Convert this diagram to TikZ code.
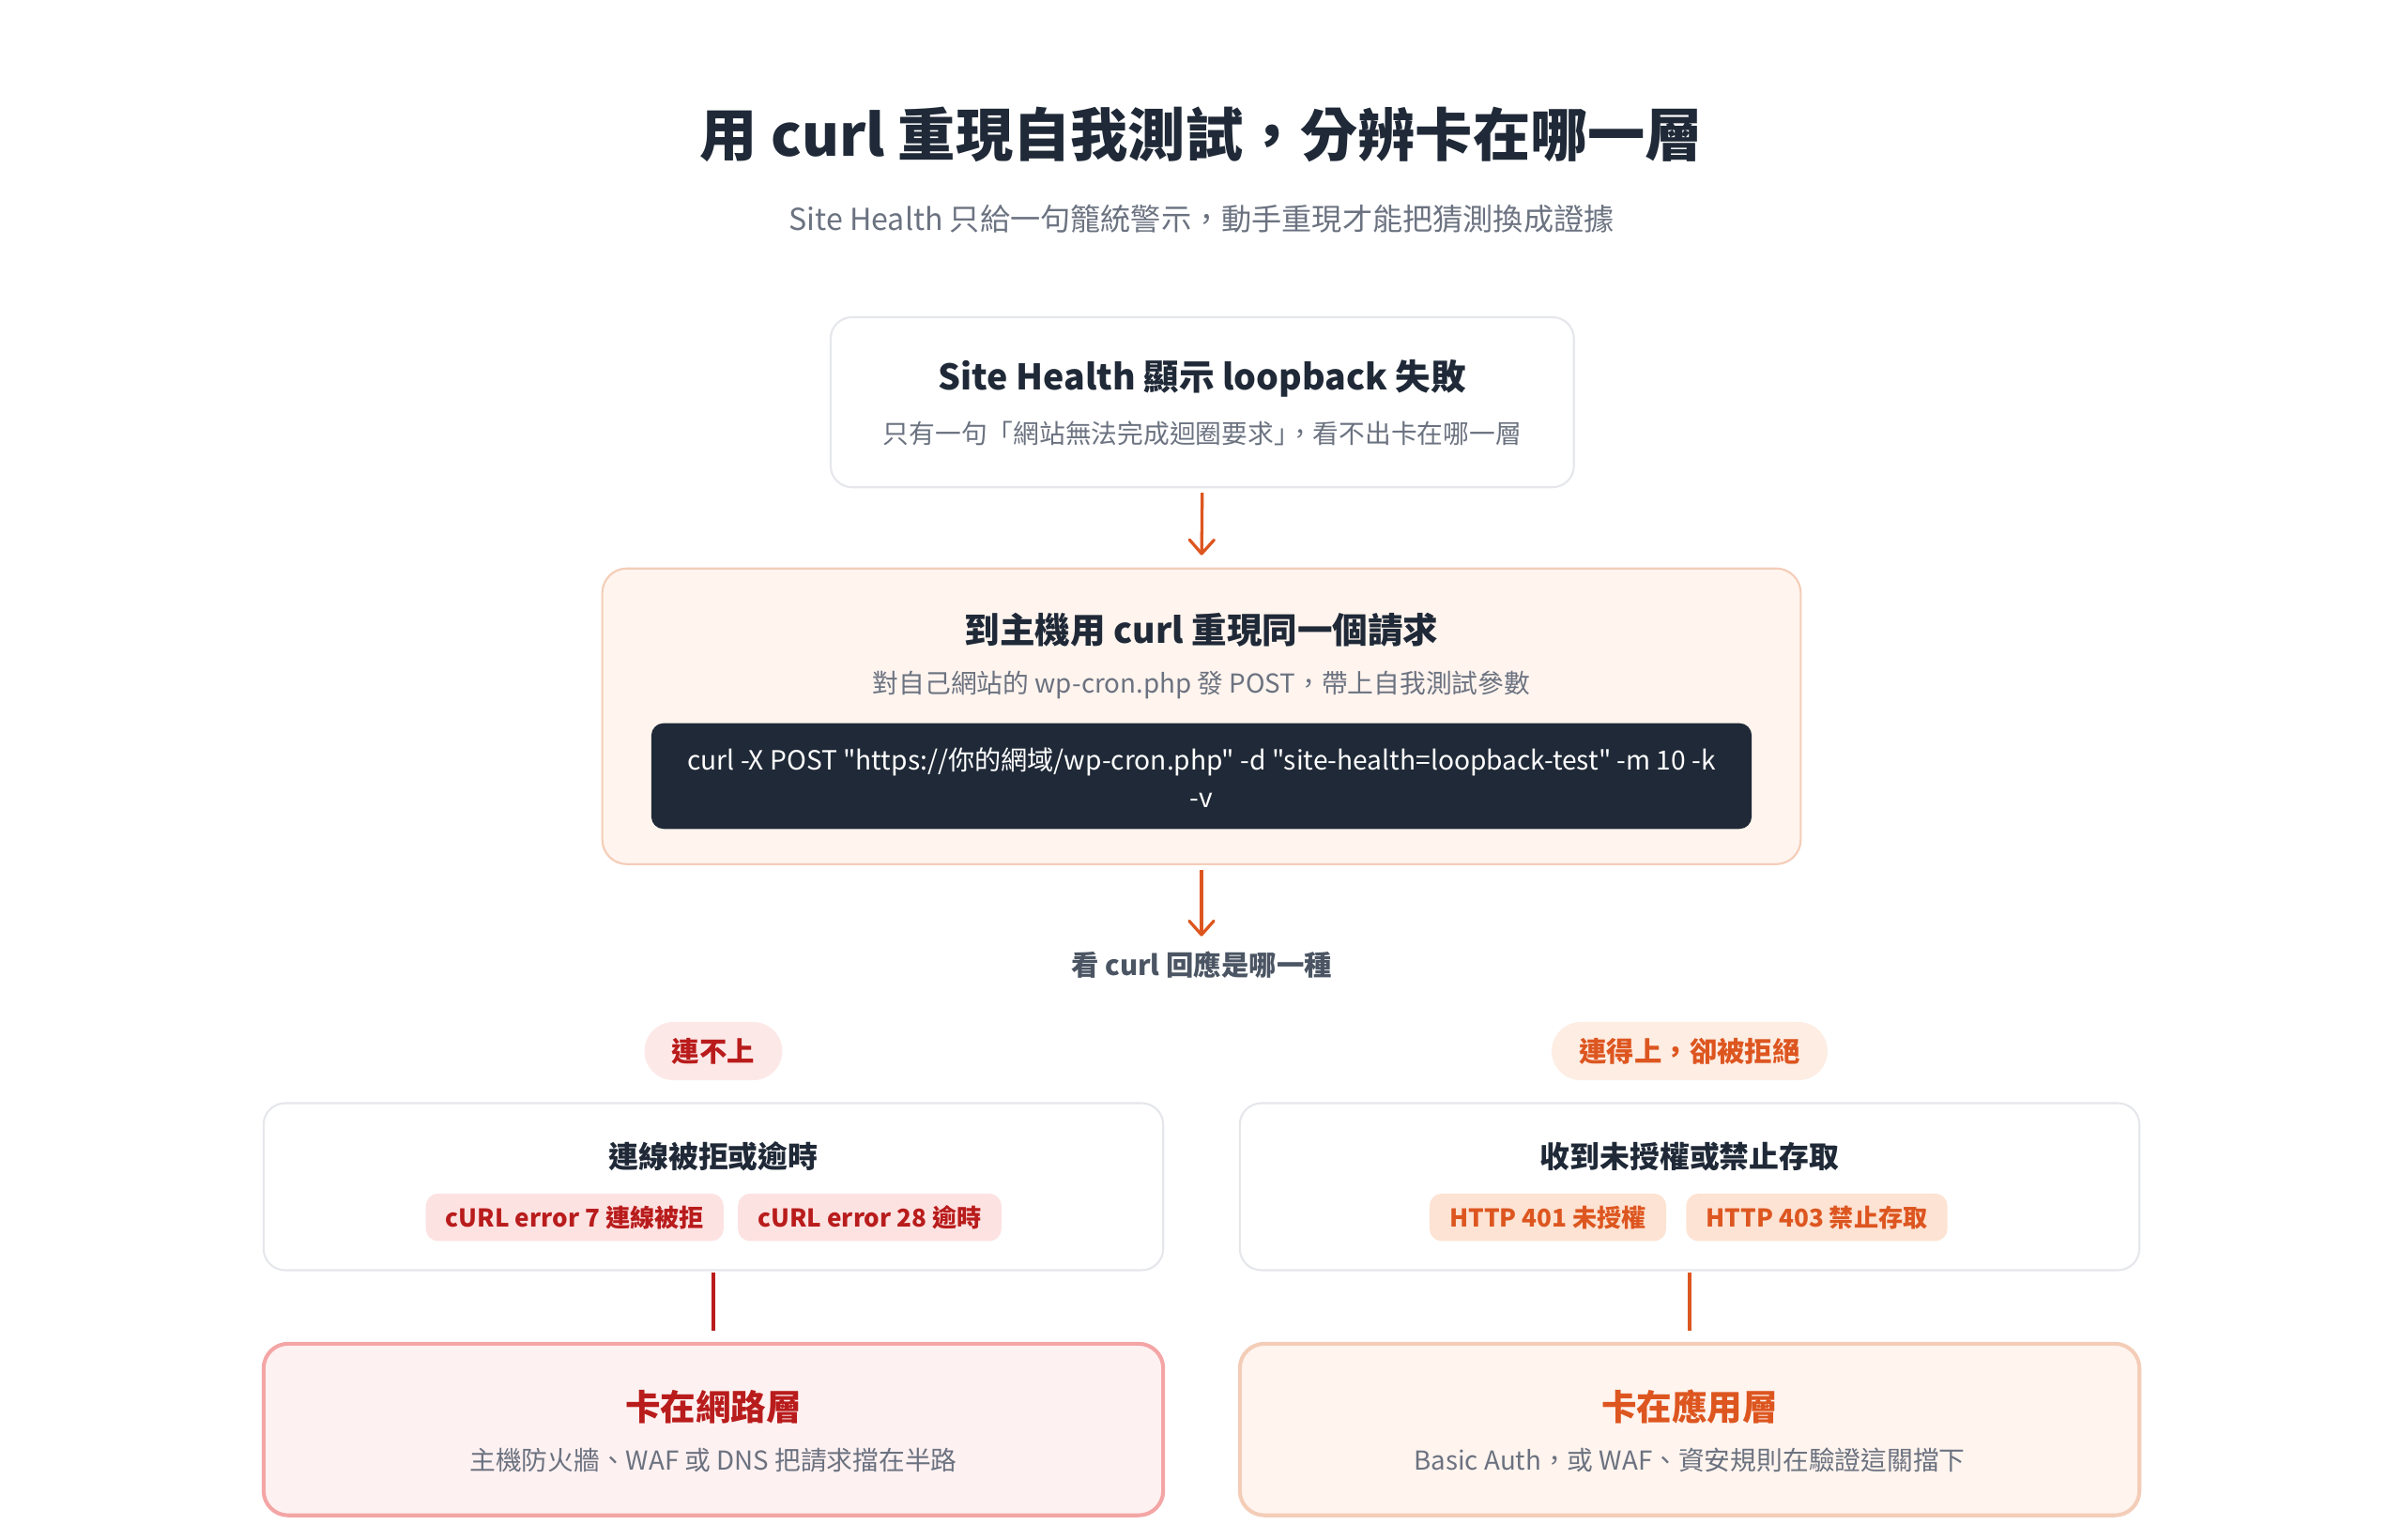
\documentclass[tikz,border=0pt]{standalone}
\usepackage{fontspec}
\setmainfont{Noto Sans CJK TC}
\newfontfamily\codefont{Noto Sans CJK TC}[Ligatures=TeXOff]
\usetikzlibrary{arrows.meta}
\definecolor{ink}{HTML}{1F2937}
\definecolor{muted}{HTML}{6B7280}
\definecolor{askgray}{HTML}{4B5563}
\definecolor{cardline}{HTML}{E5E7EB}
\definecolor{accent}{HTML}{DD5620}
\definecolor{peach}{HTML}{FFF4EE}
\definecolor{peachline}{HTML}{F4CDB8}
\definecolor{peachpill}{HTML}{FDEDE3}
\definecolor{peachchip}{HTML}{FDE3D3}
\definecolor{alarm}{HTML}{B91C1C}
\definecolor{rose}{HTML}{FEF1F1}
\definecolor{roseline}{HTML}{F4A5A5}
\definecolor{rosepill}{HTML}{FDE8E8}
\definecolor{rosechip}{HTML}{FDE2E2}
\newcommand{\fs}[1]{\fontsize{#1}{1.2\dimexpr#1pt\relax}\selectfont}
\tikzset{>={Straight Barb[length=9pt,width=16pt,round]},
	card/.style={draw=cardline,line width=1.3pt,fill=white,rounded corners=14pt,inner sep=0pt},
	head/.style={text=ink,font=\fs{23}\bfseries,inner sep=0pt},
	subhead/.style={text=ink,font=\fs{19.5}\bfseries,inner sep=0pt},
	note/.style={text=muted,font=\fs{17},inner sep=0pt},
	pill/.style={rounded corners=19pt,minimum height=38pt,inner xsep=18pt,inner ysep=0pt,font=\fs{18}\bfseries},
	chip/.style={rounded corners=8pt,minimum height=31pt,inner xsep=13pt,inner ysep=0pt,font=\fs{16}\bfseries},
	flow/.style={->,draw=accent,line width=2pt,shorten <=3pt,shorten >=8pt}
}
\begin{document}
\begin{tikzpicture}[x=1pt,y=1pt]
	\useasboundingbox (0,0) rectangle (1568,-1004.5);
	\node[text=ink,font=\fs{37.5}\bfseries,inner sep=0pt] (ttl) at (784,-88) {用 curl 重現自我測試，分辨卡在哪一層};
	\node[text=muted,font=\fs{19.7},inner sep=0pt] (lead) at (784,-143) {Site Health 只給一句籠統警示，動手重現才能把猜測換成證據};

	% Site Health
	\node[card,minimum width=485pt,minimum height=111pt] (detect) at (784.5,-262.5) {};
	\node[head] at (784.5,-247) {Site Health 顯示 loopback 失敗};
	\node[note] at (784.5,-283) {只有一句「網站無法完成迴圈要求」\kern-.5em，看不出卡在哪一層};

	% curl
	\node[card,draw=peachline,fill=peach,rounded corners=16pt,minimum width=782pt,minimum height=193pt] (probe) at (784,-467.5) {};
	\node[head] at (784,-411) {到主機用 curl 重現同一個請求};
	\node[note] at (784,-447) {對自己網站的 wp-cron.php 發 POST，帶上自我測試參數};
	\node[fill=ink,rounded corners=8pt,minimum width=718pt,minimum height=69pt,inner sep=0pt] (cmd) at (784,-506.5) {};
	\node[text=white,font=\codefont\fs{17.25},align=center,inner sep=0pt] at (784,-507.5) {curl -X POST "https://你的網域/wp-cron.php" -d "site-health=loopback-test" -m 10 -k\\[4pt]-v};

	\node[text=askgray,font=\fs{18}\bfseries,inner sep=0pt] (ask) at (784,-630) {看 curl 回應是哪一種};

	% two branches
	\node[pill,fill=rosepill,text=alarm] (down) at (465.5,-686) {連不上};
	\node[pill,fill=peachpill,text=accent] (denied) at (1102.5,-686) {連得上，卻被拒絕};

	\node[card,minimum width=587pt,minimum height=109pt] (refused) at (465.5,-774.5) {};
	\node[subhead] at (465.5,-755) {連線被拒或逾時};
	\node[chip,fill=rosechip,text=alarm] (e7) at (375,-794.5) {cURL error 7 連線被拒};
	\node[chip,fill=rosechip,text=alarm] (e28) at (567.5,-794.5) {cURL error 28 逾時};

	\node[card,minimum width=587pt,minimum height=109pt] (forbid) at (1102.5,-774.5) {};
	\node[subhead] at (1102.5,-755) {收到未授權或禁止存取};
	\node[chip,fill=peachchip,text=accent] (h401) at (1010,-794.5) {HTTP 401 未授權};
	\node[chip,fill=peachchip,text=accent] (h403) at (1185.5,-794.5) {HTTP 403 禁止存取};

	\node[card,draw=roseline,fill=rose,line width=2.5pt,rounded corners=16pt,minimum width=587pt,minimum height=112pt] (net) at (465.5,-933) {};
	\node[text=alarm,font=\fs{23}\bfseries,inner sep=0pt] at (465.5,-918) {卡在網路層};
	\node[note] at (465.5,-953) {主機防火牆、WAF 或 DNS 把請求擋在半路};

	\node[card,draw=peachline,fill=peach,line width=2.5pt,rounded corners=16pt,minimum width=587pt,minimum height=112pt] (app) at (1102.5,-933) {};
	\node[text=accent,font=\fs{23}\bfseries,inner sep=0pt] at (1102.5,-918) {卡在應用層};
	\node[note] at (1102.5,-953) {Basic Auth，或 WAF、資安規則在驗證這關擋下};

	\draw[flow] (detect.south) -- (probe.north);
	\draw[flow,shorten >=10pt] (probe.south) -- (ask.north);
	\draw[alarm,line width=2pt,shorten <=1pt,shorten >=7pt] (refused.south) -- (net.north);
	\draw[accent,line width=2pt,shorten <=1pt,shorten >=7pt] (forbid.south) -- (app.north);
\end{tikzpicture}
\end{document}
